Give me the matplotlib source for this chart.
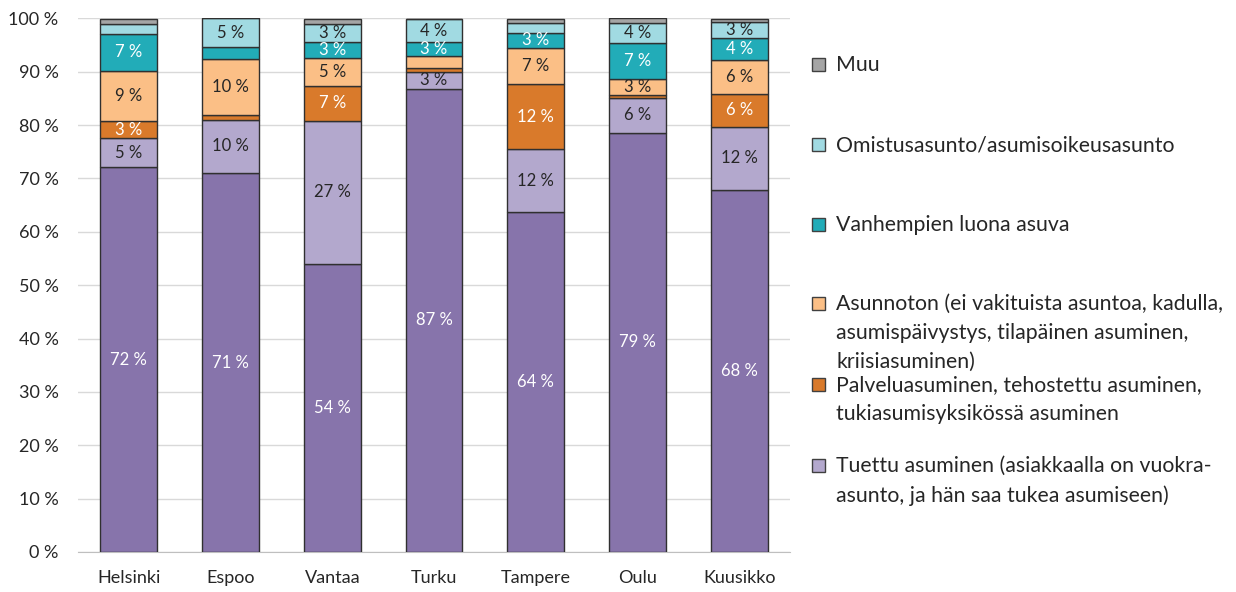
import matplotlib.pyplot as plt
import matplotlib.patches as mpatches
import numpy as np

plt.rcParams['font.family'] = ['Lato', 'DejaVu Sans']

# Kaupungit
cities = ["Helsinki", "Espoo", "Vantaa", "Turku", "Tampere", "Oulu", "Kuusikko"]

# Osuudet (%) alhaalta ylös
vuokra = [72.1, 71.0, 54.0, 86.8, 63.7, 78.6, 67.8]
tuettu = [5.4, 10.0, 26.8, 3.2, 11.8, 6.4, 11.9]
palvelu = [3.3, 0.9, 6.6, 0.6, 12.2, 0.6, 6.2]
asunnoton = [9.3, 10.4, 5.2, 2.3, 6.7, 3.1, 6.2]
vanhemmat = [7.05, 2.3, 3.0, 2.6, 2.9, 6.7, 4.2]
omistus = [1.8, 5.4, 3.4, 4.4, 1.9, 3.7, 3.0]
muu = [0.95, 0.0, 0.9, 0.0, 0.6, 0.9, 0.6]

legend_labels = [
    "Muu",
    "Omistusasunto/asumisoikeusasunto",
    "Vanhempien luona asuva",
    "Asunnoton (ei vakituista asuntoa, kadulla,\nasumispäivystys, tilapäinen asuminen,\nkriisiasuminen)",
    "Palveluasuminen, tehostettu asuminen,\ntukiasumisyksikössä asuminen",
    "Tuettu asuminen (asiakkaalla on vuokra-\nasunto, ja hän saa tukea asumiseen)",
]

series = [vuokra, tuettu, palvelu, asunnoton, vanhemmat, omistus, muu]
colors = ["#8774AB", "#B3A8CD", "#D97A2B", "#FBBF86", "#22ACB8", "#A1DAE2", "#A5A5A5"]
text_colors = ["white", "#262626", "white", "#262626", "white", "#262626", "#262626"]

fig = plt.figure(figsize=(12.36, 5.92), dpi=100)
ax = fig.add_axes([78 / 1236, 1 - 552 / 592, 712 / 1236, (552 - 18.3) / 592])

x = np.arange(len(cities))
bottom = np.zeros(len(cities))
for vals, col, tcol in zip(series, colors, text_colors):
    vals = np.array(vals)
    ax.bar(x, vals, width=0.56, bottom=bottom, color=col,
           edgecolor="#303030", linewidth=1, zorder=3)
    for xi, b, v in zip(x, bottom, vals):
        if v >= 2.5:
            ax.text(xi, b + v / 2, f"{v:.0f} %", ha="center", va="center",
                    color=tcol, fontsize=12, zorder=4)
    bottom += vals

ax.set_xlim(-0.5, len(cities) - 0.5)
ax.set_ylim(0, 100)
ax.set_yticks(np.arange(0, 101, 10))
ax.set_yticklabels([f"{t} %" for t in range(0, 101, 10)])
ax.set_xticks(x)
ax.set_xticklabels(cities)
ax.tick_params(length=0, labelsize=13, colors="#262626")
ax.tick_params(axis="y", pad=14)
ax.tick_params(axis="x", pad=13)
ax.grid(axis="y", color="#D9D9D9", linewidth=1, zorder=0)
for s in ["top", "right", "left"]:
    ax.spines[s].set_visible(False)
ax.spines["bottom"].set_color("#BFBFBF")

# Selite oikealla
legend_colors = colors[::-1][:6]
first_line_y = [65, 145, 225, 304, 385, 466]
for lab, col, yp in zip(legend_labels, legend_colors, first_line_y):
    fig.patches.append(mpatches.Rectangle(
        (812 / 1236, 1 - (yp + 6) / 592), 13 / 1236, 13 / 592,
        transform=fig.transFigure, facecolor=col, edgecolor="#404040", linewidth=1))
    fig.text(836 / 1236, 1 - (yp - 10) / 592, lab, ha="left", va="top",
             fontsize=15.3, color="#262626", linespacing=1.55)

fig.savefig("out.png", dpi=100)
